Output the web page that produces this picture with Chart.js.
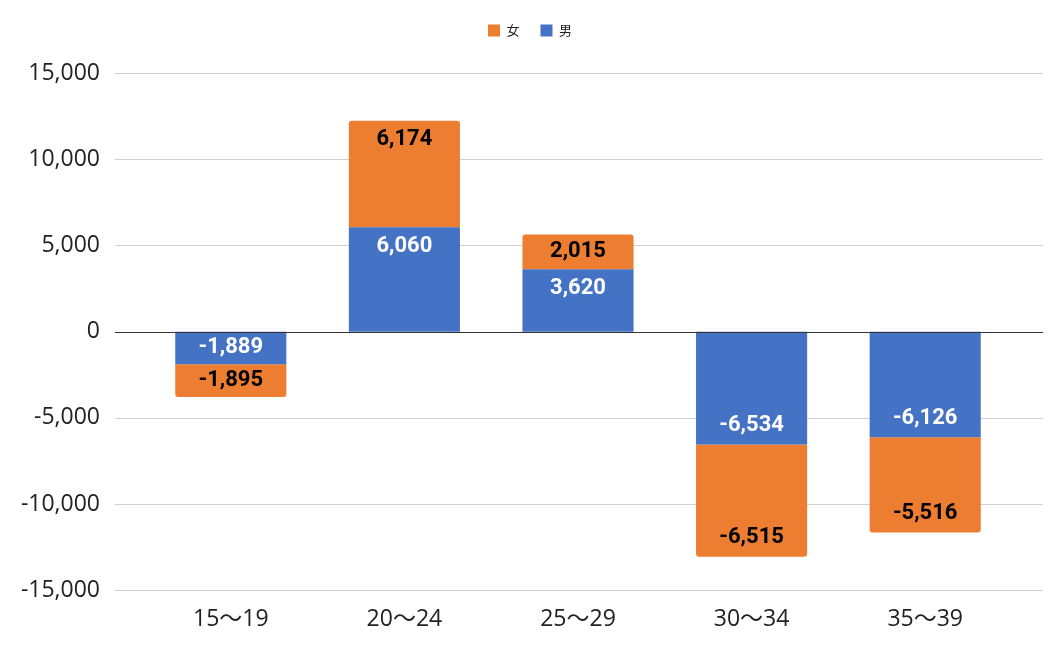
<!DOCTYPE html>
<html>
<head>
<meta charset="utf-8">
<script src="https://cdn.jsdelivr.net/npm/chart.js@4"></script>
<style>
  html, body { margin: 0; padding: 0; background: #fff; }
  #wrap { width: 1056px; height: 654px; position: relative; }
</style>
</head>
<body>
<div id="wrap"><canvas id="chart"></canvas></div>
<script>
// ── DATA ──
const categories = ['15〜19', '20〜24', '25〜29', '30〜34', '35〜39'];
const maleValues = [-1889, 6060, 3620, -6534, -6126];
const femaleValues = [-1895, 6174, 2015, -6515, -5516];
const yTicks = [-15000, -10000, -5000, 0, 5000, 10000, 15000];

const BLUE = '#4472C4';
const ORANGE = '#ED7D31';

// grid lines drawn wider than the bar area, like the original
function drawHLine(chart, v, color) {
  const { ctx, scales: { y } } = chart;
  const py = Math.round(y.getPixelForValue(v)) + 0.5;
  ctx.save();
  ctx.strokeStyle = color;
  ctx.lineWidth = 1;
  ctx.beginPath();
  ctx.moveTo(115, py);
  ctx.lineTo(1043, py);
  ctx.stroke();
  ctx.restore();
}

const wideGrid = {
  id: 'wideGrid',
  beforeLayout(chart) {
    // extra room under the legend
    const lg = chart.legend;
    if (lg && !lg._padded) {
      const fit = lg.fit;
      lg.fit = function () { fit.call(this); this.height += 26; };
      lg._padded = true;
    }
  },
  afterLayout(chart) {
    // legend sits a little right of the canvas centre
    if (chart.legend) { chart.legend.left += 15; chart.legend.right += 15; }
  },
  beforeDatasetsDraw(chart) {
    yTicks.forEach(v => { if (v !== 0) drawHLine(chart, v, '#d0d0d0'); });
  },
  afterDatasetsDraw(chart) {
    drawHLine(chart, 0, '#333333');
  }
};

// value labels near the outer end of each segment
const barLabels = {
  id: 'barLabels',
  afterDatasetsDraw(chart) {
    const { ctx } = chart;
    ctx.save();
    ctx.font = 'bold 22px Roboto';
    ctx.textAlign = 'center';
    ctx.textBaseline = 'middle';
    chart.data.datasets.forEach((ds, di) => {
      const meta = chart.getDatasetMeta(di);
      meta.data.forEach((bar, i) => {
        const v = ds.data[i];
        const top = Math.min(bar.y, bar.base);
        const bot = Math.max(bar.y, bar.base);
        const off = Math.min(19, (bot - top) / 2);
        const cy = v >= 0 ? top + off : bot - off;
        ctx.fillStyle = ds.labelColor;
        ctx.fillText(v.toLocaleString('en-US'), bar.x, cy);
      });
    });
    ctx.restore();
  }
};

new Chart(document.getElementById('chart'), {
  type: 'bar',
  data: {
    labels: categories,
    datasets: [
      {
        label: '男',
        data: maleValues,
        backgroundColor: BLUE,
        labelColor: '#ffffff',
        borderRadius: 3,
      },
      {
        label: '女',
        data: femaleValues,
        backgroundColor: ORANGE,
        labelColor: '#000000',
        borderRadius: 3,
      }
    ]
  },
  options: {
    responsive: true,
    maintainAspectRatio: false,
    animation: false,
    layout: { padding: { left: 18, right: 44, top: 3, bottom: 6 } },
    datasets: {
      bar: { categoryPercentage: 1, barPercentage: 0.64 }
    },
    plugins: {
      legend: {
        position: 'top',
        reverse: true,
        labels: {
          color: '#222',
          font: { size: 13, family: "'Noto Sans CJK JP'" },
          boxWidth: 12,
          boxHeight: 12,
          padding: 21,
        }
      },
      tooltip: { enabled: false }
    },
    scales: {
      x: {
        stacked: true,
        grid: { display: false, drawTicks: false },
        border: { display: false },
        ticks: {
          color: '#222',
          padding: 15,
          font: { size: 23, family: "'Open Sans', 'Noto Sans CJK JP'" }
        }
      },
      y: {
        stacked: true,
        min: -15000,
        max: 15000,
        afterBuildTicks: (axis) => { axis.ticks = yTicks.map(v => ({ value: v })); },
        afterFit: (axis) => { axis.width = 126; },
        grid: { display: false, drawTicks: false },
        border: { display: false },
        ticks: {
          color: '#222',
          padding: 44,
          font: { size: 23, family: "'Open Sans'" },
          callback: v => v.toLocaleString('en-US')
        }
      }
    }
  },
  plugins: [wideGrid, barLabels]
});
</script>
</body>
</html>
